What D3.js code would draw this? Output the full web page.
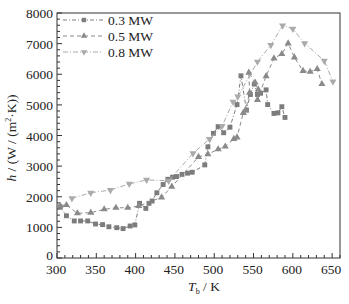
<!DOCTYPE html>
<html>
<head>
<meta charset="utf-8">
<script src="https://cdn.jsdelivr.net/npm/d3@7"></script>
<style>
  body { margin: 0; background: #fff; }
  text { font-family: "Liberation Serif", "DejaVu Serif", serif; fill: #222; }
</style>
</head>
<body>
<div id="chart"></div>
<script>
// data: [T_b (K), h (W/(m2 K))]
const series03 = [
  [304, 1665], [312, 1380], [322, 1210], [330, 1210], [339, 1210], [349, 1110],
  [358, 1090], [366, 1020], [376, 990], [384, 960], [393, 1045], [399, 1080],
  [405, 1785], [413, 1620], [417, 1785], [421, 1860], [427, 2130], [435, 2400],
  [441, 2570], [447, 2640], [452, 2660], [459, 2730], [466, 2770], [472, 2800],
  [488, 3040], [492, 3630], [499, 4070], [505, 4290], [512, 4090], [520, 4270],
  [529, 5010], [534, 5950], [541, 4830], [546, 5340], [551, 5680], [555, 5340],
  [559, 5380], [566, 5490], [568, 5010], [576, 4720], [581, 4740], [586, 4940],
  [590, 4590]
];
const series05 = [
  [304, 1710], [312, 1730], [326, 1460], [343, 1480], [360, 1590], [375, 1640],
  [390, 1640], [404, 1700], [433, 1980], [446, 2330], [480, 3300], [492, 3390],
  [505, 3550], [514, 3640], [525, 3890], [529, 3940], [537, 4740], [540, 4830],
  [545, 5400], [544, 6050], [552, 5730], [556, 5500], [555, 5160], [566, 5940],
  [576, 6520], [586, 6660], [594, 7010], [602, 6550], [613, 6110], [622, 6080],
  [631, 6170], [637, 5680]
];
const series08 = [
  [319, 1950], [343, 2130], [368, 2220], [392, 2420], [414, 2550], [442, 2520],
  [473, 3420], [494, 3880], [510, 4310], [524, 5100], [530, 5270], [555, 6410],
  [572, 6950], [587, 7590], [600, 7480], [615, 7010], [640, 6440], [651, 5760]
];
const seriesNames = ["0.3 MW", "0.5 MW", "0.8 MW"];
const xTicks = [300, 350, 400, 450, 500, 550, 600, 650];
const yTicks = [0, 1000, 2000, 3000, 4000, 5000, 6000, 7000, 8000];

const margin = {top: 13, right: 9, bottom: 46, left: 57};
const width = 349 - margin.left - margin.right;
const height = 304 - margin.top - margin.bottom;

const svg = d3.select("#chart").append("svg")
    .attr("width", 349)
    .attr("height", 304);

const g = svg.append("g")
    .attr("transform", "translate(" + margin.left + "," + margin.top + ")");

const x = d3.scaleLinear().domain([300, 660]).range([0, width]);
const y = d3.scaleLinear().domain([0, 8000]).range([height, 0]);

// styles per series
const styles = [
  {data: series03, color: "#7c7c7c", dash: "4,2,1,2", symbol: d3.symbolSquare, size: 24, rot: 0},
  {data: series05, color: "#8a8a8a", dash: "4,3", symbol: d3.symbolTriangle, size: 22, rot: 0},
  {data: series08, color: "#ababab", dash: "5,2,1,2", symbol: d3.symbolTriangle, size: 22, rot: 180}
];

// minor ticks (inside)
const xMinor = d3.range(300, 661, 10);
const yMinor = d3.range(0, 8001, 200);

g.selectAll(".xminor").data(xMinor).enter().append("line")
    .attr("x1", d => x(d)).attr("x2", d => x(d))
    .attr("y1", height).attr("y2", d => height - (d % 50 === 0 ? 5 : 3))
    .attr("stroke", "#333").attr("stroke-width", 1);

g.selectAll(".yminor").data(yMinor).enter().append("line")
    .attr("y1", d => y(d)).attr("y2", d => y(d))
    .attr("x1", 0).attr("x2", d => (d % 1000 === 0 ? 5 : 3))
    .attr("stroke", "#333").attr("stroke-width", 1);

// frame
g.append("rect")
    .attr("x", 0).attr("y", 0)
    .attr("width", width).attr("height", height)
    .attr("fill", "none")
    .attr("stroke", "#333").attr("stroke-width", 1);

// tick labels
g.selectAll(".xlab").data(xTicks).enter().append("text")
    .attr("x", d => x(d) - 1)
    .attr("y", height + 16)
    .attr("text-anchor", "middle")
    .attr("font-size", "13.5px")
    .text(d => d);

g.selectAll(".ylab").data(yTicks).enter().append("text")
    .attr("x", -4)
    .attr("y", d => y(d) + (d === 0 ? 2 : 5))
    .attr("text-anchor", "end")
    .attr("font-size", "13.5px")
    .text(d => d);

// axis titles
const xt = svg.append("text")
    .attr("x", 204)
    .attr("y", 291)
    .attr("text-anchor", "middle")
    .attr("font-size", "13.5px");
xt.append("tspan").attr("font-style", "italic").text("T");
xt.append("tspan").attr("font-size", "8px").attr("dy", 3).text("b");
xt.append("tspan").attr("dy", -3).text(" / K");

const yt = svg.append("text")
    .attr("transform", "translate(16,138) rotate(-90)")
    .attr("text-anchor", "middle")
    .attr("font-size", "13.5px");
yt.append("tspan").attr("font-style", "italic").text("h");
yt.append("tspan").text(" / (W / (m");
yt.append("tspan").attr("font-size", "8px").attr("dy", -5).text("2");
yt.append("tspan").attr("dy", 5).text("·K))");

// lines and markers
const line = d3.line().x(d => x(d[0])).y(d => y(d[1]));

styles.forEach(s => {
  g.append("path")
      .datum(s.data)
      .attr("d", line)
      .attr("fill", "none")
      .attr("stroke", s.color)
      .attr("stroke-width", 1)
      .attr("stroke-dasharray", s.dash);

  g.selectAll(null).data(s.data).enter().append("path")
      .attr("d", d3.symbol().type(s.symbol).size(s.size))
      .attr("transform", d => "translate(" + x(d[0]) + "," + y(d[1]) + ") rotate(" + s.rot + ")")
      .attr("fill", s.color);
});

// legend
const legend = g.append("g").attr("transform", "translate(6,7)");
styles.forEach((s, i) => {
  const row = legend.append("g").attr("transform", "translate(0," + (i * 16) + ")");
  row.append("line")
      .attr("x1", 0).attr("x2", 40)
      .attr("y1", 0).attr("y2", 0)
      .attr("stroke", s.color)
      .attr("stroke-width", 1)
      .attr("stroke-dasharray", s.dash);
  row.append("path")
      .attr("d", d3.symbol().type(s.symbol).size(s.size * 0.8))
      .attr("transform", "translate(21,0) rotate(" + s.rot + ")")
      .attr("fill", s.color);
  row.append("text")
      .attr("x", 45)
      .attr("y", 5)
      .attr("font-size", "13.5px")
      .text(seriesNames[i]);
});
</script>
</body>
</html>
